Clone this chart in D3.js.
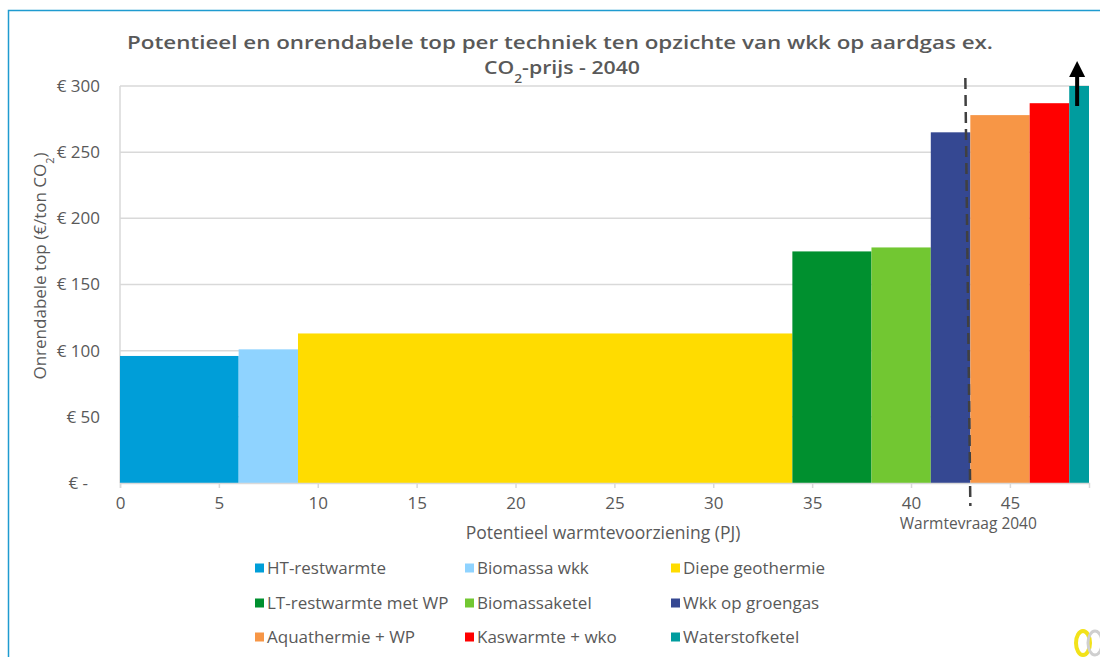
<!DOCTYPE html>
<html>
<head>
<meta charset="utf-8">
<script src="https://cdn.jsdelivr.net/npm/d3@7"></script>
<style>
  body { margin: 0; background: #fff; }
  text { font-family: "Open Sans", "DejaVu Sans", sans-serif; fill: #595959; }
</style>
</head>
<body>
<div class="chart"></div>
<script>
const width = 1100;
const height = 657;

// techniques, in merit order
const techniques = ["HT-restwarmte", "Biomassa wkk", "Diepe geothermie",
    "LT-restwarmte met WP", "Biomassaketel", "Wkk op groengas",
    "Aquathermie + WP", "Kaswarmte + wko", "Waterstofketel"];
// potential per technique (PJ) = bar width
const potentials = [6, 3, 25, 4, 3, 2, 3, 2, 1];
// onrendabele top (€/ton CO2) = bar height (waterstofketel goes beyond 300)
const costs = [96, 101, 113, 175, 178, 265, 278, 287, 300];
const colors = ["#009ed8", "#8fd3ff", "#ffdc00", "#00902f", "#72c732",
    "#354892", "#f79646", "#ff0000", "#009c9e"];
const xTicks = [0, 5, 10, 15, 20, 25, 30, 35, 40, 45];
const yTicks = [0, 50, 100, 150, 200, 250, 300];
const demand = 43; // Warmtevraag 2040

let svg = d3.select(".chart")
    .append("svg")
    .attr("width", width)
    .attr("height", height);

// outer frame
svg.append("path")
    .attr("d", `M8.5,${height} V10.5 H${width}`)
    .attr("fill", "none")
    .attr("stroke", "#1f9bd0")
    .attr("stroke-width", 1.5);

let x = d3.scaleLinear().domain([0, 49]).range([120, 1089]);
let y = d3.scaleLinear().domain([0, 300]).range([483, 86]);

// gridlines
svg.append("g")
    .selectAll("line")
    .data(yTicks.filter(d => d > 0))
    .enter()
    .append("line")
    .attr("x1", x(0)).attr("x2", x(49))
    .attr("y1", d => y(d)).attr("y2", d => y(d))
    .attr("stroke", "#d9d9d9")
    .attr("stroke-width", 1.5);

svg.append("line")
    .attr("x1", x(0)).attr("x2", x(0))
    .attr("y1", y(300)).attr("y2", y(0))
    .attr("stroke", "#d9d9d9")
    .attr("stroke-width", 1.5);

// bars: x from cumulative potential
let starts = [];
potentials.reduce((acc, p, i) => { starts[i] = acc; return acc + p; }, 0);

let bars = techniques.map((t, i) => ({
    name: t,
    x0: starts[i],
    x1: starts[i] + potentials[i],
    value: costs[i],
    color: colors[i]
}));

svg.append("g")
    .selectAll("rect")
    .data(bars)
    .enter()
    .append("rect")
    .attr("x", d => x(d.x0))
    .attr("width", d => x(d.x1) - x(d.x0))
    .attr("y", d => y(d.value))
    .attr("height", d => y(0) - y(d.value))
    .attr("fill", d => d.color);

// x axis
let xAxis = svg.append("g")
    .attr("transform", `translate(0,${y(0)})`)
    .call(d3.axisBottom(x).tickValues(xTicks).tickSize(5).tickPadding(9));
xAxis.select(".domain").attr("stroke", "#d9d9d9").attr("stroke-width", 1.5);
xAxis.selectAll(".tick line").attr("stroke", "#d9d9d9").attr("stroke-width", 1.5);
xAxis.selectAll(".tick text")
    .style("font-family", "\"Open Sans\", sans-serif")
    .style("font-size", "17px")
    .attr("fill", "#595959");

// y axis labels
svg.append("g")
    .selectAll("text")
    .data(yTicks)
    .enter()
    .append("text")
    .attr("x", d => d === 0 ? 88 : 100)
    .attr("y", d => y(d))
    .attr("dy", "0.35em")
    .attr("text-anchor", "end")
    .style("font-size", "17px")
    .text(d => d === 0 ? "€ -" : "€ " + d);

// demand line
svg.append("line")
    .attr("x1", x(demand) - 5).attr("y1", 78)
    .attr("x2", x(demand)).attr("y2", 506)
    .attr("stroke", "#404040")
    .attr("stroke-width", 2.5)
    .attr("stroke-dasharray", "11,6");

svg.append("text")
    .attr("x", x(demand) - 2)
    .attr("y", 529)
    .attr("text-anchor", "middle")
    .style("font-size", "15.5px")
    .text("Warmtevraag 2040");

// arrow on waterstofketel
let ax = x(48.4);
svg.append("line")
    .attr("x1", ax).attr("x2", ax)
    .attr("y1", 106).attr("y2", 74)
    .attr("stroke", "#000")
    .attr("stroke-width", 4);
svg.append("path")
    .attr("d", `M${ax - 8},${77} L${ax},${61} L${ax + 8},${77} Z`)
    .attr("fill", "#000");

// titles
svg.append("text")
    .attr("x", 560)
    .attr("y", 49)
    .attr("text-anchor", "middle")
    .attr("textLength", 866)
    .attr("lengthAdjust", "spacingAndGlyphs")
    .style("font-size", "18.5px")
    .style("font-weight", "600")
    .text("Potentieel en onrendabele top per techniek ten opzichte van wkk op aardgas ex.");
let t2 = svg.append("text")
    .attr("x", 562)
    .attr("y", 74)
    .attr("text-anchor", "middle")
    .attr("textLength", 156)
    .attr("lengthAdjust", "spacingAndGlyphs")
    .style("font-size", "18.5px")
    .style("font-weight", "600");
t2.append("tspan").text("CO");
t2.append("tspan").attr("baseline-shift", "sub").style("font-size", "12px").text("2");
t2.append("tspan").text("-prijs - 2040");

svg.append("text")
    .attr("x", 603)
    .attr("y", 539)
    .attr("text-anchor", "middle")
    .style("font-size", "17.5px")
    .text("Potentieel warmtevoorziening (PJ)");

let yTitle = svg.append("text")
    .attr("transform", "translate(46,266) rotate(-90)")
    .attr("text-anchor", "middle")
    .style("font-size", "17px");
yTitle.append("tspan").text("Onrendabele top (€/ton CO");
yTitle.append("tspan").attr("baseline-shift", "sub").style("font-size", "11px").text("2");
yTitle.append("tspan").text(")");

// legend
const legendCols = [255, 465, 671];
const legendRows = [568, 603, 637];
let legend = svg.append("g")
    .selectAll("g")
    .data(bars)
    .enter()
    .append("g")
    .attr("transform", (d, i) => `translate(${legendCols[i % 3]},${legendRows[Math.floor(i / 3)]})`);
legend.append("rect")
    .attr("x", 0).attr("y", -4.5)
    .attr("width", 9).attr("height", 9)
    .attr("fill", d => d.color);
legend.append("text")
    .attr("x", 12)
    .attr("dy", "0.35em")
    .style("font-size", "17px")
    .text(d => d.name);

// logo corner
svg.append("ellipse")
    .attr("cx", 1083).attr("cy", 643).attr("rx", 7).attr("ry", 12)
    .attr("fill", "none").attr("stroke", "#f2e21a").attr("stroke-width", 4);
svg.append("ellipse")
    .attr("cx", 1095).attr("cy", 643).attr("rx", 7).attr("ry", 12)
    .attr("fill", "none").attr("stroke", "#cfcfcf").attr("stroke-width", 3);
</script>
</body>
</html>
